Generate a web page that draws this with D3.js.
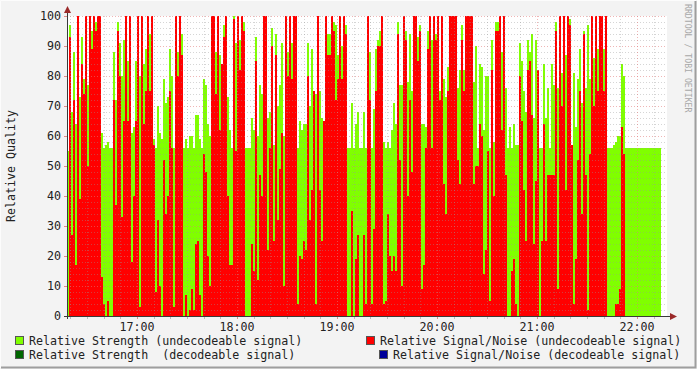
<!DOCTYPE html>
<html><head><meta charset="utf-8">
<script src="https://cdn.jsdelivr.net/npm/d3@7"></script>
<style>html,body{margin:0;padding:0;background:#f3f3f3;overflow:hidden}</style>
</head><body><svg id="c" width="697" height="369"></svg>
<script>
// ---- data ----
const startTime = "2024-01-01T16:18:00";
const endTime = "2024-01-01T22:18:00";
const stepSeconds = 72;
const strength = [
55,97,68,88,64,100,73,93,79,100,
77,100,95,100,98,100,100,61,56,57,
58,56,56,88,72,98,91,80,92,100,
85,100,61,63,85,100,80,100,84,89,
100,94,100,59,56,70,61,59,79,71,
73,89,80,56,100,88,100,94,56,59,
56,60,60,56,67,67,59,56,79,77,
64,60,100,100,88,100,87,84,97,100,
73,62,56,100,91,100,92,100,98,56,
56,56,66,62,93,60,77,74,100,100,
66,68,96,57,94,70,77,91,60,100,
88,100,91,100,100,56,65,62,64,64,
91,70,89,75,74,100,75,66,65,100,
94,94,100,98,97,87,100,90,100,97,
56,56,71,56,64,68,56,56,68,56,
100,88,56,69,89,92,95,100,58,56,
58,56,62,71,64,98,77,77,100,95,
78,94,75,100,100,93,97,64,64,63,
95,100,92,100,94,100,75,100,79,73,
83,100,100,100,100,76,82,97,82,100,
100,100,100,78,90,56,84,83,62,80,
80,56,92,58,98,98,100,88,100,76,
56,63,56,64,57,57,91,85,75,68,
92,88,94,66,92,82,56,56,84,66,
76,56,84,77,98,76,100,81,100,87,
100,99,57,81,63,79,89,71,95,76,
97,79,100,86,100,89,100,100,89,100,
56,56,56,57,58,60,60,84,80,56,
56,56,56,56,56,56,56,56,56,56,
56,56,56,56,56,56,56
];
const signalNoise = [
0,93,27,72,17,100,39,84,74,100,
50,100,89,100,95,100,100,13,4,0,
5,0,0,72,37,95,80,33,65,100,
65,100,18,40,65,100,3,100,64,75,
100,75,100,57,8,32,10,0,52,34,
40,75,56,3,100,80,100,87,0,7,
0,2,9,2,24,25,7,0,54,48,
20,10,100,100,74,100,62,84,93,100,
40,17,17,99,55,100,82,100,95,0,
0,0,24,15,85,12,47,40,100,100,
22,56,90,25,87,32,49,61,10,100,
80,100,79,100,100,4,20,19,25,22,
80,32,42,75,4,100,42,25,65,100,
87,87,100,95,72,79,100,79,100,94,
0,0,35,0,19,27,0,0,27,4,
100,72,4,29,75,90,90,100,4,5,
34,20,15,20,15,94,52,10,100,92,
40,72,48,100,100,85,95,9,17,56,
89,100,56,100,92,100,72,100,44,34,
75,100,100,100,100,52,44,92,75,100,
100,100,100,44,50,50,64,60,14,22,
55,5,82,40,95,95,100,62,100,47,
0,0,15,19,4,0,80,65,42,25,
82,85,67,24,45,82,0,25,64,25,
47,47,47,47,95,9,100,70,100,42,
100,97,57,4,19,52,75,34,94,47,
2,54,100,70,100,75,100,100,75,100,
0,0,0,0,4,4,9,63,54,0,
0,0,0,0,0,0,0,0,0,0,
0,0,0,0,0,0,0
];
const yTickValues = [0,10,20,30,40,50,60,70,80,90,100];
const xTickLabels = ["17:00","18:00","19:00","20:00","21:00","22:00"];
const legendLabels = [
  "Relative Strength (undecodeable signal)",
  "Relative Signal/Noise (undecodeable signal)",
  "Relative Strength  (decodeable signal)",
  "Relative Signal/Noise (decodeable signal)"
];
const legendColors = ["#80ff00","#ff0000","#006600","#000099"];

// ---- drawing ----
const svg = d3.select("#c");
const FONT = "'DejaVu Sans Mono', monospace";
const FS = "11.65px";
const L = 67, R = 667, T = 16, B = 316;
const t0 = new Date(startTime), t1 = new Date(endTime);
const x = d3.scaleTime().domain([t0, t1]).range([L, R]);
const y = d3.scaleLinear().domain([0, 100]).range([B, T]);

// background & frame
svg.append("rect").attr("x",0).attr("y",0).attr("width",697).attr("height",369).attr("fill","#f3f3f3");
svg.append("rect").attr("x",L).attr("y",T).attr("width",R-L).attr("height",B-T).attr("fill","#ffffff");
svg.append("path").attr("d","M0.5,368 V0.5 H696").attr("fill","none").attr("stroke","#fcfcfc").attr("stroke-width",1);
svg.append("path").attr("d","M1,367.5 H695.5 V1").attr("fill","none").attr("stroke","#9e9e9e").attr("stroke-width",2);

const points = strength.map((g,i)=>({
  t: new Date(t0.getTime() + i*stepSeconds*1000),
  t2: new Date(t0.getTime() + (i+1)*stepSeconds*1000),
  g, r: signalNoise[i]
}));

const gData = svg.append("g").attr("shape-rendering","crispEdges");
gData.selectAll("rect.g").data(points).join("rect")
  .attr("x", d=>x(d.t)).attr("width", d=>x(d.t2)-x(d.t))
  .attr("y", d=>y(d.g)).attr("height", d=>B - y(d.g)).attr("fill","#80ff00");
gData.selectAll("rect.r").data(points.filter(d=>d.r>0)).join("rect")
  .attr("x", d=>x(d.t)).attr("width", d=>x(d.t2)-x(d.t))
  .attr("y", d=>y(d.r)).attr("height", d=>B - y(d.r)).attr("fill","#ff0000");

// grid (drawn over data, rrdtool style)
const grid = svg.append("g");
const minorCol = "rgba(150,150,150,0.4)", majorCol = "rgba(225,120,120,0.55)";
const minorY = d3.range(0, 101, 2).filter(v=>v%10!==0);
grid.selectAll("line.my").data(minorY).join("line")
  .attr("x1",L).attr("x2",R).attr("y1",d=>Math.round(y(d))+0.5).attr("y2",d=>Math.round(y(d))+0.5)
  .attr("stroke",minorCol).attr("stroke-dasharray","1,2");
grid.selectAll("line.My").data(yTickValues.filter(v=>v>0)).join("line")
  .attr("x1",L).attr("x2",R).attr("y1",d=>Math.round(y(d))+0.5).attr("y2",d=>Math.round(y(d))+0.5)
  .attr("stroke",majorCol).attr("stroke-dasharray","1,2");
const minorX = d3.timeMinute.every(10).range(t0, t1).filter(d=>d.getMinutes()!==0);
grid.selectAll("line.mx").data(minorX).join("line")
  .attr("y1",T).attr("y2",B).attr("x1",d=>Math.round(x(d))+0.5).attr("x2",d=>Math.round(x(d))+0.5)
  .attr("stroke",minorCol).attr("stroke-dasharray","1,2");
const majorX = d3.timeHour.range(t0, t1);
grid.selectAll("line.Mx").data(majorX).join("line")
  .attr("y1",T).attr("y2",B).attr("x1",d=>Math.round(x(d))+0.5).attr("x2",d=>Math.round(x(d))+0.5)
  .attr("stroke",majorCol).attr("stroke-dasharray","1,2");

// ticks on axes
grid.selectAll("line.tx").data(minorX).join("line")
  .attr("y1",B).attr("y2",B+3).attr("x1",d=>Math.round(x(d))+0.5).attr("x2",d=>Math.round(x(d))+0.5)
  .attr("stroke","rgba(150,150,150,0.6)");
grid.selectAll("line.tX").data(majorX).join("line")
  .attr("y1",B).attr("y2",B+3).attr("x1",d=>Math.round(x(d))+0.5).attr("x2",d=>Math.round(x(d))+0.5)
  .attr("stroke","rgba(220,110,110,0.8)");
grid.selectAll("line.ty").data(yTickValues).join("line")
  .attr("x1",L-3).attr("x2",L).attr("y1",d=>Math.round(y(d))+0.5).attr("y2",d=>Math.round(y(d))+0.5)
  .attr("stroke","rgba(220,110,110,0.8)");

// axes
svg.append("line").attr("x1",L+0.5).attr("x2",L+0.5).attr("y1",B+3).attr("y2",T-4).attr("stroke","#3a3a3a");
svg.append("line").attr("x1",L-3).attr("x2",R+4).attr("y1",B+0.5).attr("y2",B+0.5).attr("stroke","#3a3a3a");
svg.append("path").attr("d",`M${L-3},${T-3} L${L+0.5},${T-10} L${L+4},${T-3} Z`).attr("fill","#9b2a2a");
svg.append("path").attr("d",`M${R+3},${B-3} L${R+10},${B+0.5} L${R+3},${B+4} Z`).attr("fill","#9b2a2a");

// y labels
svg.selectAll("text.yl").data(yTickValues).join("text")
  .attr("x",61).attr("y",d=>y(d)+4).attr("text-anchor","end")
  .attr("font-family",FONT).attr("font-size",FS).attr("fill","#222").text(d=>d);

// x labels
svg.selectAll("text.xl").data(majorX).join("text")
  .attr("x",d=>x(d)).attr("y",331).attr("text-anchor","middle")
  .attr("font-family",FONT).attr("font-size",FS).attr("fill","#222")
  .text((d,i)=>xTickLabels[i]);

// axis title
svg.append("text").attr("transform","translate(15,166) rotate(-90)").attr("text-anchor","middle")
  .attr("font-family",FONT).attr("font-size",FS).attr("fill","#222").text("Relative Quality");

// watermark
svg.append("text").attr("transform","translate(685,4) rotate(90)").attr("text-anchor","start")
  .attr("font-family",FONT).attr("font-size","8.2px").attr("fill","#a8a8a8").text("RRDTOOL / TOBI OETIKER");

// legend
const legendPos = [[15,336],[366,336],[15,350],[379,350]];
legendLabels.forEach((lab,i)=>{
  const [lx,ly] = legendPos[i];
  svg.append("rect").attr("x",lx+0.5).attr("y",ly+0.5).attr("width",8).attr("height",8)
    .attr("fill",legendColors[i]).attr("stroke","#555").attr("stroke-width",1);
  svg.append("text").attr("x",lx+14).attr("y",ly+9).attr("xml:space","preserve")
    .style("white-space","pre")
    .attr("font-family",FONT).attr("font-size",FS).attr("fill","#222").text(lab);
});
</script></body></html>
